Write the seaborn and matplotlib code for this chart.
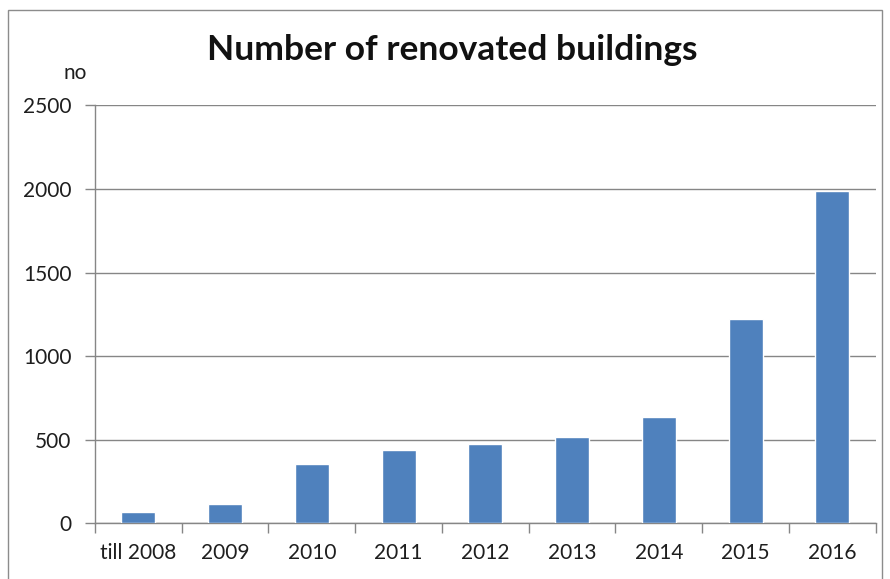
import matplotlib
matplotlib.use("Agg")
import matplotlib.pyplot as plt
import seaborn as sns
import pandas as pd
import numpy as np
from matplotlib.patches import Rectangle

# Data
years = ["till 2008", "2009", "2010", "2011", "2012", "2013", "2014", "2015", "2016"]
buildings = [70, 115, 355, 440, 475, 515, 635, 1220, 1990]
y_ticks = [0, 500, 1000, 1500, 2000, 2500]

sns.set_theme(style="white")
plt.rcParams["font.family"] = ["Lato", "DejaVu Sans"]

df = pd.DataFrame({"year": years, "count": buildings})

fig = plt.figure(figsize=(8.9, 5.79), dpi=100)
ax = fig.add_axes([0.1067, 0.0959, 0.984 - 0.1067, 0.8178 - 0.0959])

sns.barplot(data=df, x="year", y="count", color="#4F81BD", saturation=1,
            width=0.39, ax=ax, zorder=3)

grid_col = "#868686"
text_col = "#1e1e1e"
ax.set_ylim(0, 2500)
ax.set_xlim(-0.5, len(years) - 0.5)
ax.set_yticks(y_ticks)
ax.set_yticklabels([str(v) for v in y_ticks], fontsize=15, color=text_col)
ax.yaxis.grid(True, color=grid_col, linewidth=1)
ax.set_axisbelow(True)

# category labels with tick marks between categories
ax.set_xticks(range(len(years)))
ax.set_xticklabels(years, fontsize=15, color=text_col)
ax.tick_params(axis="x", which="major", length=0, pad=14)
ax.set_xticks(np.arange(-0.5, len(years)), minor=True)
ax.tick_params(axis="x", which="minor", length=7, color=grid_col, width=1,
               direction="out", bottom=True)
ax.tick_params(axis="y", length=7, color=grid_col, width=1, direction="out",
               left=True, pad=10)

ax.set_xlabel("")
ax.set_ylabel("")
for side in ["top", "right"]:
    ax.spines[side].set_visible(False)
for side in ["left", "bottom"]:
    ax.spines[side].set_color(grid_col)
    ax.spines[side].set_linewidth(1)

fig.text(0.508, 0.913, "Number of renovated buildings", ha="center", va="center",
         fontsize=25.5, fontweight="bold", color="#111111")
fig.text(0.084, 0.874, "no", ha="center", va="center", fontsize=15, color=text_col)

# outer chart border
fig.patches.append(Rectangle((8 / 890, -0.01), (882 - 8) / 890, 1 - 10 / 579 + 0.01,
                             transform=fig.transFigure, fill=False,
                             edgecolor="#8c8c8c", linewidth=1))

fig.savefig("out.png", dpi=100)
